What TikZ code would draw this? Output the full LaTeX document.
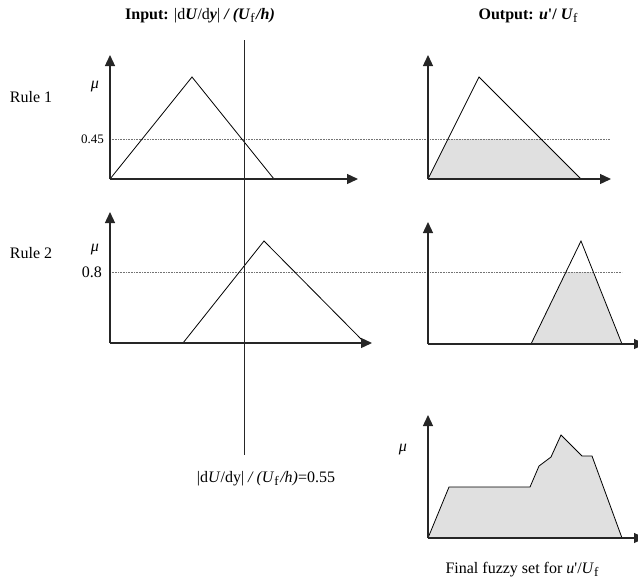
\documentclass[tikz,border=0pt]{standalone}
\usepackage{fontspec}
\setmainfont{Liberation Serif}
\usetikzlibrary{arrows.meta}
\newcommand{\subf}{\raisebox{-0.4ex}{\fontsize{13}{15}\selectfont f}}
\begin{document}
\begin{tikzpicture}[x=1pt,y=-1pt,
  axis/.style={line width=1.3pt, draw=black!85, -{Triangle[length=11pt,width=10pt]}},
  mf/.style={line width=0.8pt, draw=black, line join=miter},
  lvl/.style={draw=black!55, line width=0.9pt, dash pattern=on 1pt off 0.6pt},
  cutarea/.style={fill=black!12, draw=none},
  txt/.style={inner sep=0pt, font=\fontsize{16}{19}\selectfont},
  small/.style={inner sep=0pt, font=\fontsize{13}{15}\selectfont}]
\useasboundingbox (0,0) rectangle (638,582);

% ---------- headers ----------
\node[txt] (hin) at (200,16) {\textbf{Input:} |d\textbf{\textit{U}}/d\textbf{\textit{y}}| \textbf{\textit{/ (U}}\subf\kern1.5pt\textbf{\textit{/h)}}};
\node[txt] (hout) at (528,16) {\textbf{Output:} \textbf{\textit{u}\textquotesingle/ \textit{U}}\subf};

% ---------- coordinates ----------
\coordinate (i1o) at (110,179); \coordinate (i1x) at (358,179); \coordinate (i1y) at (110,55);
\coordinate (o1o) at (428,179); \coordinate (o1x) at (611,179); \coordinate (o1y) at (428,55);
\coordinate (i2o) at (110,343); \coordinate (i2x) at (372,343); \coordinate (i2y) at (110,212);
\coordinate (o2o) at (428,344); \coordinate (o2x) at (645,344); \coordinate (o2y) at (428,222);
\coordinate (fo) at (428,538);  \coordinate (fx) at (645,538);  \coordinate (fy) at (428,415);
\coordinate (vt) at (244,40);   \coordinate (vb) at (244,455);
\coordinate (l1a) at (110,139); \coordinate (l1b) at (610,139);
\coordinate (l2a) at (110,272); \coordinate (l2b) at (622,272);

% ---------- clipped output areas ----------
\fill[cutarea] (428,179) -- (448,139) -- (541,139) -- (581,179) -- cycle;
\fill[cutarea] (531,344) -- (566,272) -- (593,272) -- (622,344) -- cycle;
\fill[cutarea] (428,538) -- (449,487) -- (530,487) -- (539,466) -- (551,457) -- (561,435) -- (582,456) -- (592,456) -- (622,538) -- cycle;

% ---------- level lines ----------
\draw[lvl] (l1a) -- (l1b);
\draw[lvl] (l2a) -- (l2b);

% ---------- membership functions ----------
\draw[mf] (110,179) -- (192,77) -- (274,179);
\draw[mf] (428,179) -- (479,77) -- (581,179);
\draw[mf] (183,343) -- (264,241) -- (365,343);
\draw[mf] (531,344) -- (581,241) -- (622,344);
\draw[mf] (428,538) -- (449,487) -- (530,487) -- (539,466) -- (551,457) -- (561,435) -- (582,456) -- (592,456) -- (622,538);

% ---------- input value line ----------
\draw[line width=1pt, draw=black!85] (vt) -- (vb);

% ---------- axes ----------
\draw[axis] (i1o) -- (i1x); \draw[axis] (i1o) -- (i1y);
\draw[axis] (o1o) -- (o1x); \draw[axis] (o1o) -- (o1y);
\draw[axis] (i2o) -- (i2x); \draw[axis] (i2o) -- (i2y);
\draw[axis] (o2o) -- (o2x); \draw[axis] (o2o) -- (o2y);
\draw[axis] (fo) -- (fx);   \draw[axis] (fo) -- (fy);

% ---------- labels ----------
\node[txt] (r1) at (31,97) {Rule 1};
\node[txt] (mu1) at (95,87) {\textit{μ}};
\node[small, anchor=east] (v1) at (104,139) {0.45};
\node[txt] (r2) at (31,253) {Rule 2};
\node[txt] (mu2) at (95,250) {\textit{μ}};
\node[txt, anchor=east] (v2) at (102,272) {0.8};
\node[txt] (mu3) at (403,450) {\textit{μ}};
\node[txt] (xval) at (266,479) {|d\textit{U}/dy| \textit{/ (U}\subf\kern1.5pt\textit{/h)}=0.55};
\node[txt] (cap) at (522,570) {Final fuzzy set for \textit{u}\textquotesingle/\textit{U}\subf};
\end{tikzpicture}
\end{document}
